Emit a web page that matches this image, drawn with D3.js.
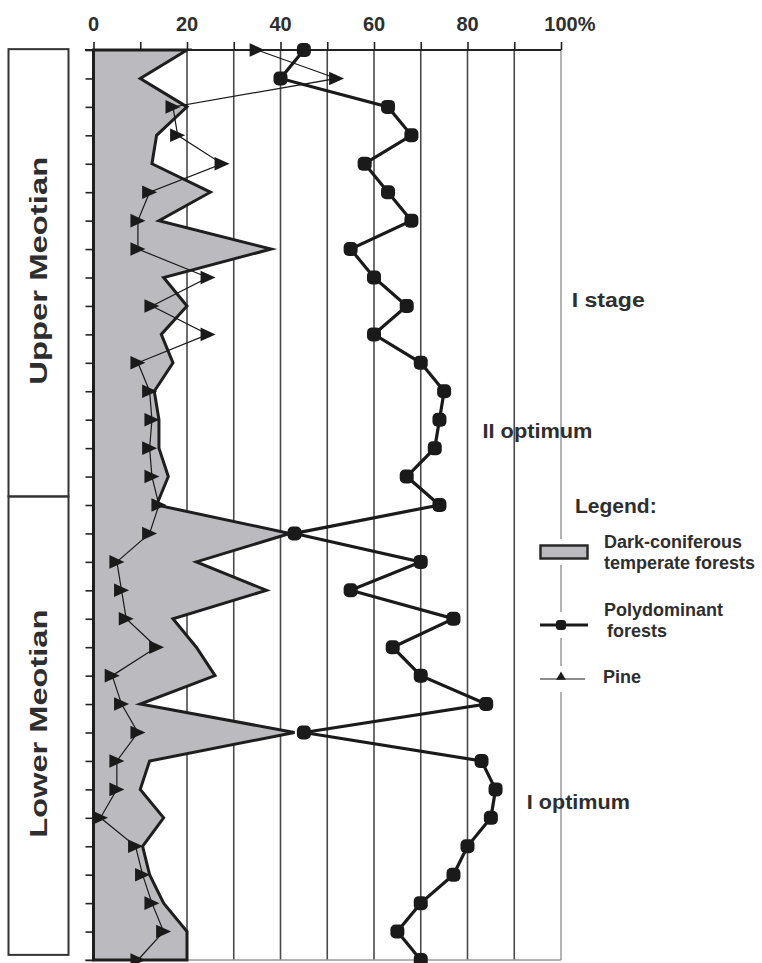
<!DOCTYPE html>
<html>
<head>
<meta charset="utf-8">
<script src="https://cdn.jsdelivr.net/npm/d3@7"></script>
<style>
  html, body { margin: 0; padding: 0; background: #fff; }
  svg text { font-family: "Liberation Sans", Arial, sans-serif; font-weight: bold; fill: #2e2e2e; }
</style>
</head>
<body>
<svg id="chart" width="762" height="963"></svg>
<script>
// Sample levels of the section, top (youngest) to bottom
const samples = [1,2,3,4,5,6,7,8,9,10,11,12,13,14,15,16,17,18,19,20,21,22,23,24,25,26,27,28,29,30,31,32,33];

// Pollen share, %
const darkConiferous = [20, 10, 20, 13.5, 12.5, 25, 14, 38, 15, 20, 14.5, 17, 13, 14, 14, 16, 13.5,
                        42, 22, 37, 17, 22, 26, 10, 43, 12, 10, 15, 10.5, 12, 15, 20, 20];
const polydominant   = [45, 40, 63, 68, 58, 63, 68, 55, 60, 67, 60, 70, 75, 74, 73, 67, 74,
                        43, 70, 55, 77, 64, 70, 84, 45, 83, 86, 85, 80, 77, 70, 65, 70];
const pine           = [35, 52, 17, 18, 27.5, 12, 9.5, 9.5, 24.5, 12.5, 24.5, 9.5, 12, 12.5, 12, 12.5, 14,
                        12, 5, 6, 7, 13.5, 4, 6, 9.5, 5, 5, 1.5, 9, 10.5, 12.5, 15, 9.5];

// Axis labels
const tickValues = [0, 10, 20, 30, 40, 50, 60, 70, 80, 90, 100];
const tickLabels = [{ v: 0, t: "0" }, { v: 20, t: "20" }, { v: 40, t: "40" },
                    { v: 60, t: "60" }, { v: 80, t: "80" }, { v: 100, t: "100", suffix: "%" }];

// Stratigraphic units (bounds in sample-index units)
const stageNames  = ["Upper Meotian", "Lower Meotian"];
const stageBounds = [-0.03, 15.7, 31.82];

// Interpretation notes: [text, percent position, sample-index position, text length]
const notes = [["I stage", 102.3, 9.05, 73], ["II optimum", 83.2, 13.65, 110], ["I optimum", 92.7, 26.7, 103]];

const svg = d3.select("#chart");
const x = d3.scaleLinear().domain([0, 100]).range([93.5, 561]);
const y = d3.scaleLinear().domain([0, samples.length - 1]).range([50, 960]);
const idx = samples.map((d, i) => i);

// Vertical grid lines (10..90)
svg.append("g").selectAll("line")
  .data(tickValues.filter(v => v > 0 && v < 100))
  .join("line")
  .attr("x1", d => x(d)).attr("x2", d => x(d))
  .attr("y1", y(0)).attr("y2", y(32))
  .attr("stroke", "#4a4a4a").attr("stroke-width", 1.6);

// 100% line, broken where the legend symbols sit
const legendY = [552, 625, 679];
const gapHalf = [13, 13, 13];
const segs = [];
let start = y(0);
legendY.forEach((ly, i) => { segs.push([start, ly - gapHalf[i]]); start = ly + gapHalf[i]; });
segs.push([start, y(32)]);
svg.append("g").selectAll("line").data(segs).join("line")
  .attr("x1", x(100)).attr("x2", x(100))
  .attr("y1", d => d[0]).attr("y2", d => d[1])
  .attr("stroke", "#a0a0a0").attr("stroke-width", 1.6);

// Bottom baseline
svg.append("line")
  .attr("x1", 85).attr("x2", x(100)).attr("y1", y(32)).attr("y2", y(32))
  .attr("stroke", "#9a9a9a").attr("stroke-width", 1.6);

// Top axis
const topAxis = svg.append("g").attr("transform", `translate(0,${y(0)})`)
  .call(d3.axisTop(x).tickValues(tickValues).tickSize(8).tickFormat(""));
topAxis.select(".domain").attr("stroke", "#222").attr("stroke-width", 1.8)
  .attr("d", `M${85},0H${x(100)}`);
topAxis.selectAll(".tick line").attr("stroke", "#222").attr("stroke-width", 1.6);

// Left axis ticks (one per sample)
const leftAxis = svg.append("g").attr("transform", `translate(${x(0)},0)`)
  .call(d3.axisLeft(y).tickValues(idx).tickSize(8).tickFormat(""));
leftAxis.select(".domain").remove();
leftAxis.selectAll(".tick line").attr("stroke", "#222").attr("stroke-width", 1.6);

// Tick labels
const labelG = svg.append("g");
tickLabels.forEach(d => {
  const t = labelG.append("text").attr("y", 31).style("font-size", "20px").text(d.t);
  if (d.suffix) {
    const w = t.node().getComputedTextLength();
    t.attr("x", x(d.v) - w / 2).append("tspan").text(d.suffix);
  } else {
    t.attr("x", x(d.v)).attr("text-anchor", "middle");
  }
});

// Dark-coniferous forests: filled area from 0
const areaPts = [[x(0), y(0)]]
  .concat(darkConiferous.map((v, i) => [x(v), y(i)]))
  .concat([[x(0), y(32)]]);
svg.append("path")
  .attr("d", d3.line()(areaPts) + "Z")
  .attr("fill", "#bbbbbf")
  .attr("stroke", "#1e1e1e").attr("stroke-width", 3)
  .attr("stroke-linejoin", "miter");

// Polydominant forests
svg.append("path")
  .attr("d", d3.line().x(d => x(d)).y((d, i) => y(i))(polydominant))
  .attr("fill", "none").attr("stroke", "#1a1a1a").attr("stroke-width", 3.2);
svg.append("g").selectAll("rect").data(polydominant).join("rect")
  .attr("x", d => x(d) - 7).attr("y", (d, i) => y(i) - 7)
  .attr("width", 14).attr("height", 14).attr("rx", 5)
  .attr("fill", "#1a1a1a");

// Pine: line with right-pointing triangle markers
svg.append("path")
  .attr("d", d3.line().x(d => x(d)).y((d, i) => y(i))(pine))
  .attr("fill", "none").attr("stroke", "#1a1a1a").attr("stroke-width", 1.2);
svg.append("g").selectAll("path").data(pine).join("path")
  .attr("d", "M-7.5,-6.8L7.5,0L-7.5,6.8Z")
  .attr("transform", (d, i) => `translate(${x(d)},${y(i)})`)
  .attr("fill", "#1a1a1a");

// Stage boxes with vertical titles
stageNames.forEach((name, i) => {
  const y0 = y(stageBounds[i]), y1 = y(stageBounds[i + 1]);
  svg.append("rect")
    .attr("x", 8.5).attr("y", y0).attr("width", 60).attr("height", y1 - y0)
    .attr("fill", "none").attr("stroke", "#333").attr("stroke-width", 2);
  const cy = (y0 + y1) / 2 - 2;
  svg.append("text")
    .attr("transform", `translate(47,${cy}) rotate(-90)`)
    .attr("text-anchor", "middle")
    .attr("textLength", 228).attr("lengthAdjust", "spacingAndGlyphs")
    .style("font-size", "24px")
    .text(name);
});

// Interpretation notes
svg.append("g").selectAll("text").data(notes).join("text")
  .attr("x", d => x(d[1])).attr("y", d => y(d[2]))
  .attr("textLength", d => d[3]).attr("lengthAdjust", "spacingAndGlyphs")
  .style("font-size", "20px")
  .text(d => d[0]);

// Legend
const lg = svg.append("g");
lg.append("text").attr("x", 575).attr("y", 513).style("font-size", "21px").text("Legend:");
lg.append("rect").attr("x", 540.5).attr("y", 545.5).attr("width", 47).attr("height", 13)
  .attr("fill", "#bbbbbf").attr("stroke", "#2a2a2a").attr("stroke-width", 2.5);
lg.append("line").attr("x1", 540).attr("x2", 588).attr("y1", 625).attr("y2", 625)
  .attr("stroke", "#1a1a1a").attr("stroke-width", 3);
lg.append("rect").attr("x", x(100) - 5).attr("y", 620).attr("width", 10).attr("height", 10)
  .attr("rx", 3).attr("fill", "#1a1a1a");
lg.append("line").attr("x1", 540).attr("x2", 585).attr("y1", 679).attr("y2", 679)
  .attr("stroke", "#1a1a1a").attr("stroke-width", 1.2);
lg.append("path").attr("d", d3.symbol().type(d3.symbolTriangle).size(40))
  .attr("transform", `translate(${x(100)},677)`).attr("fill", "#1a1a1a");
const legendText = [["Dark-coniferous", 604, 548], ["temperate forests", 604, 569],
                    ["Polydominant", 604, 616], ["forests", 607, 637], ["Pine", 603, 683]];
lg.selectAll("text.item").data(legendText).join("text").attr("class", "item")
  .attr("x", d => d[1]).attr("y", d => d[2]).style("font-size", "18px").text(d => d[0]);
</script>
</body>
</html>
